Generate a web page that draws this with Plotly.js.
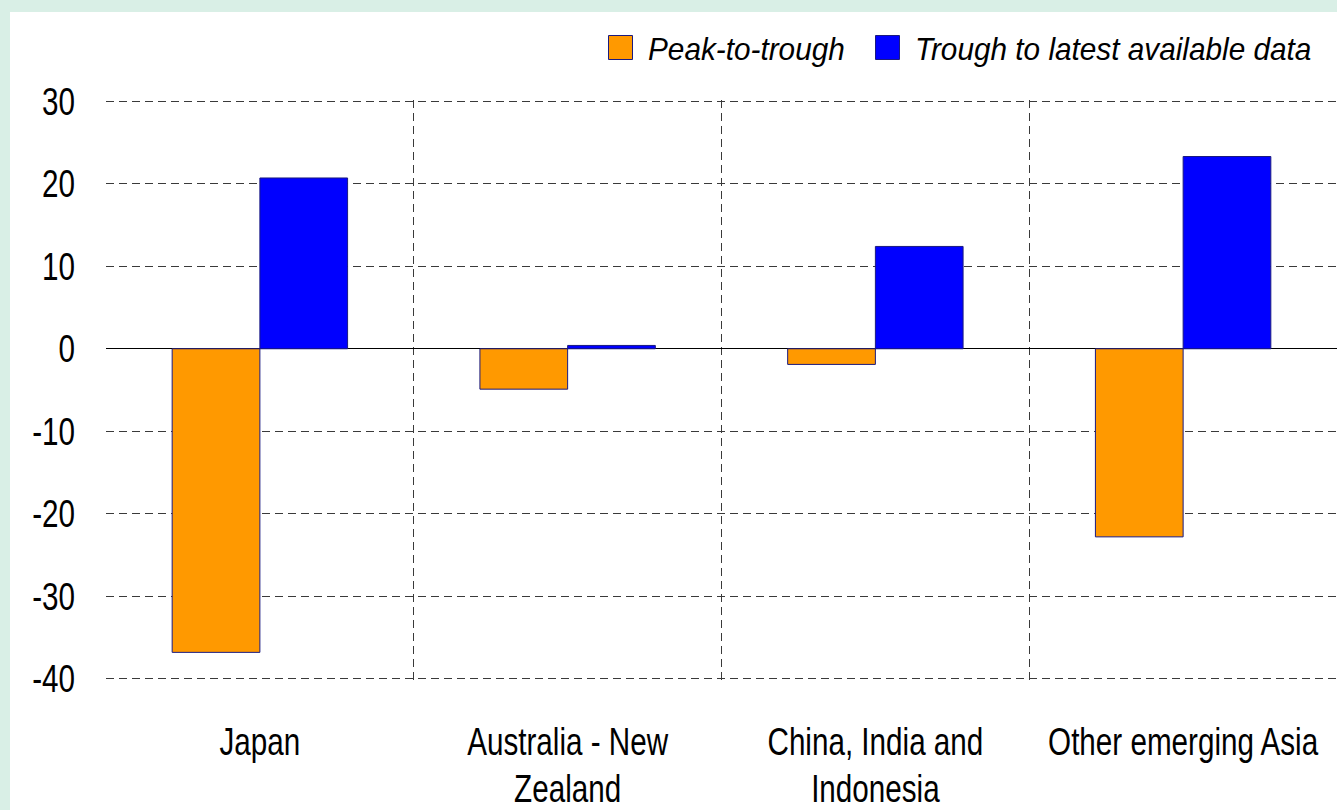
<!DOCTYPE html>
<html>
<head>
<meta charset="utf-8">
<script src="https://cdn.plot.ly/plotly-3.0.1.min.js"></script>
<style>
html,body{margin:0;padding:0;background:#d9efe6;width:1337px;height:810px;overflow:hidden;}
#panel{position:absolute;left:10px;top:12px;width:1327px;height:798px;background:#fff;}
#chart{width:1327px;height:798px;}
</style>
</head>
<body>
<div id="panel"><div id="chart"></div></div>
<script>
const categories = ["Japan", "Australia - New<br>Zealand", "China, India and<br>Indonesia", "Other emerging Asia"];
const peakToTrough = [-36.8, -4.9, -1.9, -22.8];
const troughToLatest = [20.7, 0.4, 12.4, 23.3];
const seriesNames = ["Peak-to-trough", "Trough to latest available data"];
const yTicks = [-40, -30, -20, -10, 0, 10, 20, 30];
const yTickLabels = ["-40", "-30", "-20", "-10", "0", "10", "20", "30"];
const boundaries = [0.5, 1.5, 2.5];

const FONT = "'Liberation Sans', Arial, sans-serif";
const AXIS_SQUEEZE = 0.78;
const LEGEND_SQUEEZE = 0.93;

const traces = [
  {type: 'bar', name: seriesNames[0], x: categories, y: peakToTrough,
   marker: {color: '#FF9900', line: {color: '#1a1a80', width: 1}}},
  {type: 'bar', name: seriesNames[1], x: categories, y: troughToLatest,
   marker: {color: '#0000FF', line: {color: '#1a1a80', width: 1}}},
  {type: 'scatter', x: boundaries, y: boundaries.map(() => 0), xaxis: 'x2', mode: 'markers',
   marker: {opacity: 0}, showlegend: false, hoverinfo: 'skip'}
];

const layout = {
  width: 1327, height: 798,
  paper_bgcolor: '#ffffff', plot_bgcolor: 'rgba(0,0,0,0)',
  margin: {l: 96, r: 0, t: 88, b: 130},
  barmode: 'group', bargap: 0.43, bargroupgap: 0,
  font: {family: FONT, size: 38, color: '#000'},
  showlegend: true,
  legend: {orientation: 'h', x: 0.995, xanchor: 'right', y: 1.09, yanchor: 'middle',
           font: {family: FONT, size: 32, style: 'italic', color: '#000'}, traceorder: 'normal',
           itemwidth: 30, bgcolor: 'rgba(0,0,0,0)'},
  xaxis: {type: 'category', range: [-0.5, 3.5], showgrid: false, showline: false, ticks: '',
          tickangle: 0, tickfont: {family: FONT, size: 38}, ticklabelstandoff: 36, fixedrange: true},
  xaxis2: {overlaying: 'x', range: [-0.5, 3.5], tickvals: boundaries, showticklabels: false,
           showgrid: true, gridcolor: '#3a3a3a', griddash: '8px,5px', gridwidth: 1, zeroline: false,
           ticks: '', showline: false},
  yaxis: {range: [-40.15, 30.15], tickvals: yTicks, ticktext: yTickLabels, showgrid: true, gridcolor: '#3a3a3a',
          griddash: '8px,5px', gridwidth: 1, zeroline: true, zerolinecolor: '#000', zerolinewidth: 1,
          showline: false, ticks: '', tickfont: {family: FONT, size: 38}, ticklabelstandoff: 30}
};

function squeeze(t, s) {
  const x = parseFloat(t.getAttribute('x') || 0), y = parseFloat(t.getAttribute('y') || 0);
  const old = t.getAttribute('transform') || '';
  t.setAttribute('transform', old + ' translate(' + x + ',' + y + ') scale(' + s + ',1) translate(' + (-x) + ',' + (-y) + ')');
}

Plotly.newPlot('chart', traces, layout, {displayModeBar: false, staticPlot: true}).then(function(gd){
  gd.querySelectorAll('.xtick text, .ytick text').forEach(function(t){ squeeze(t, AXIS_SQUEEZE); });
  gd.querySelectorAll('.xtick text tspan.line').forEach(function(ts){
    const dy = ts.getAttribute('dy');
    if (dy && dy.indexOf('1.3em') === 0) ts.setAttribute('dy', '1.24em');
  });
  const symCenters = [620.5, 887.5];
  const textStarts = [648, 915];
  const symY = 47.5;
  const items = gd.querySelectorAll('.legend .traces');
  items.forEach(function(it, i){
    const pt = it.querySelector('.legendpoints path');
    if (pt) pt.setAttribute('d', 'M-12,-12H12V12H-12Z');
    const tx = it.querySelector('.legendtext');
    if (tx) squeeze(tx, LEGEND_SQUEEZE);
    if (!pt) return;
    const r = pt.getBoundingClientRect();
    const dx = symCenters[i] - (r.left + r.width / 2);
    const dy = symY - (r.top + r.height / 2);
    const m = /translate\(\s*([-\d.e]+)[\s,]+([-\d.e]+)\s*\)/.exec(it.getAttribute('transform') || 'translate(0,0)');
    const ox = m ? parseFloat(m[1]) : 0, oy = m ? parseFloat(m[2]) : 0;
    it.setAttribute('transform', 'translate(' + (ox + dx) + ',' + (oy + dy) + ')');
    if (tx) {
      const tr = tx.getBoundingClientRect();
      const dtx = textStarts[i] - tr.left;
      tx.setAttribute('transform', 'translate(' + dtx + ',0) ' + (tx.getAttribute('transform') || ''));
    }
  });
  const clip = gd.querySelector('.legend .scrollbox');
  if (clip) clip.removeAttribute('clip-path');
});
</script>
</body>
</html>
